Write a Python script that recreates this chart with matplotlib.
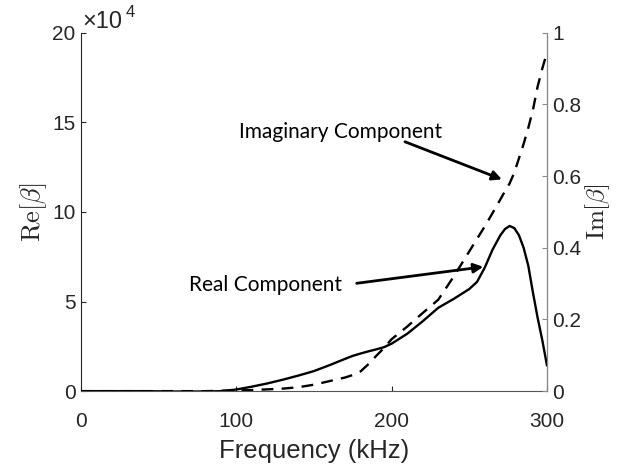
import matplotlib
matplotlib.use("Agg")
import matplotlib.pyplot as plt

# frequency (kHz) with Re[beta] (x 1e4) and Im[beta]
freq_khz = [0, 20, 40, 60, 80, 90, 100, 110, 120, 130, 140, 150, 160, 170,
            175, 180, 185, 190, 195, 200, 210, 220, 230, 240, 250, 255, 260,
            265, 270, 273, 276, 279, 282, 285, 288, 291, 294, 297, 300]
re_beta = [0, 0, 0, -0.02, -0.02, 0, 0.09, 0.25, 0.43, 0.64, 0.87, 1.12,
           1.45, 1.8, 1.97, 2.1, 2.22, 2.33, 2.45, 2.65, 3.2, 3.9, 4.65,
           5.15, 5.7, 6.1, 6.9, 7.9, 8.7, 9.05, 9.22, 9.1, 8.7, 8.0, 7.0,
           5.5, 4.1, 2.85, 1.45]
im_beta = [0, 0, 0, 0, 0, 0.001, 0.002, 0.003, 0.005, 0.007, 0.011, 0.018,
           0.028, 0.038, 0.045, 0.055, 0.075, 0.098, 0.12, 0.145, 0.18,
           0.218, 0.255, 0.32, 0.39, 0.425, 0.46, 0.497, 0.535, 0.558, 0.58,
           0.61, 0.65, 0.69, 0.735, 0.785, 0.85, 0.9, 0.945]

re_ticks = [0, 5, 10, 15, 20]
im_ticks = [0, 0.2, 0.4, 0.6, 0.8, 1]
im_tick_labels = ["0", "0.2", "0.4", "0.6", "0.8", "1"]
x_ticks = [0, 100, 200, 300]

TXT = "#262626"
plt.rcParams["font.family"] = ["Liberation Sans", "DejaVu Sans"]
plt.rcParams["mathtext.fontset"] = "cm"

fig = plt.figure(figsize=(6.18, 4.69), dpi=100)
ax = fig.add_axes([0.131, 0.166, 0.754, 0.764])
ax2 = ax.twinx()

ax.plot(freq_khz, re_beta, color="k", linewidth=1.7)
ax2.plot(freq_khz, im_beta, color="k", linewidth=1.7, linestyle=(0, (5, 3.5)))

ax.set_xlim(0, 300)
ax.set_ylim(0, 20)
ax2.set_ylim(0, 1)
ax.set_xticks(x_ticks)
ax.set_yticks(re_ticks)
ax2.set_yticks(im_ticks)
ax2.set_yticklabels(im_tick_labels)

for a in (ax, ax2):
    a.spines["top"].set_visible(False)
    a.tick_params(direction="in", length=3.5, width=0.8, labelsize=15,
                  colors=TXT, pad=4)
ax.tick_params(axis="x", pad=15)
ax.spines["left"].set_color(TXT)
ax.spines["bottom"].set_color("#555555")
ax2.spines["right"].set_color("#888888")
ax2.spines["left"].set_visible(False)
ax2.spines["bottom"].set_visible(False)
ax2.tick_params(axis="y", colors="#888888", labelcolor=TXT)

ax.set_xlabel("Frequency (kHz)", fontsize=18.5, color=TXT, labelpad=6)
ax.set_ylabel(r"$\mathrm{Re}[\beta]$", fontsize=19, color=TXT, labelpad=2)
ax2.set_ylabel(r"$\mathrm{Im}[\beta]$", fontsize=18, color=TXT, labelpad=1)

# exponent label above the left axis
ax.annotate("\u00d710", xy=(0, 1), xycoords="axes fraction",
            xytext=(1, 3.6), textcoords="offset points",
            fontsize=17, color=TXT, ha="left", va="baseline")
ax.annotate("4", xy=(0, 1), xycoords="axes fraction",
            xytext=(32.5, 11.5), textcoords="offset points",
            fontsize=12, color=TXT, ha="left", va="baseline")

ann_font = ["Lato", "DejaVu Sans"]
ax.text(168, 5.95, "Real Component", fontsize=15, ha="right", va="center",
        family=ann_font)
ax.annotate("", xy=(259, 6.94), xytext=(177.5, 6.02),
            arrowprops=dict(arrowstyle="-|>", color="k", lw=2,
                            mutation_scale=14, shrinkA=0, shrinkB=0))
ax2.text(167, 0.722, "Imaginary Component", fontsize=15, ha="center",
         va="center", family=ann_font)
ax2.annotate("", xy=(271, 0.591), xytext=(208.6, 0.696),
             arrowprops=dict(arrowstyle="-|>", color="k", lw=2,
                             mutation_scale=14, shrinkA=0, shrinkB=0))

fig.savefig("out.png", dpi=100)
